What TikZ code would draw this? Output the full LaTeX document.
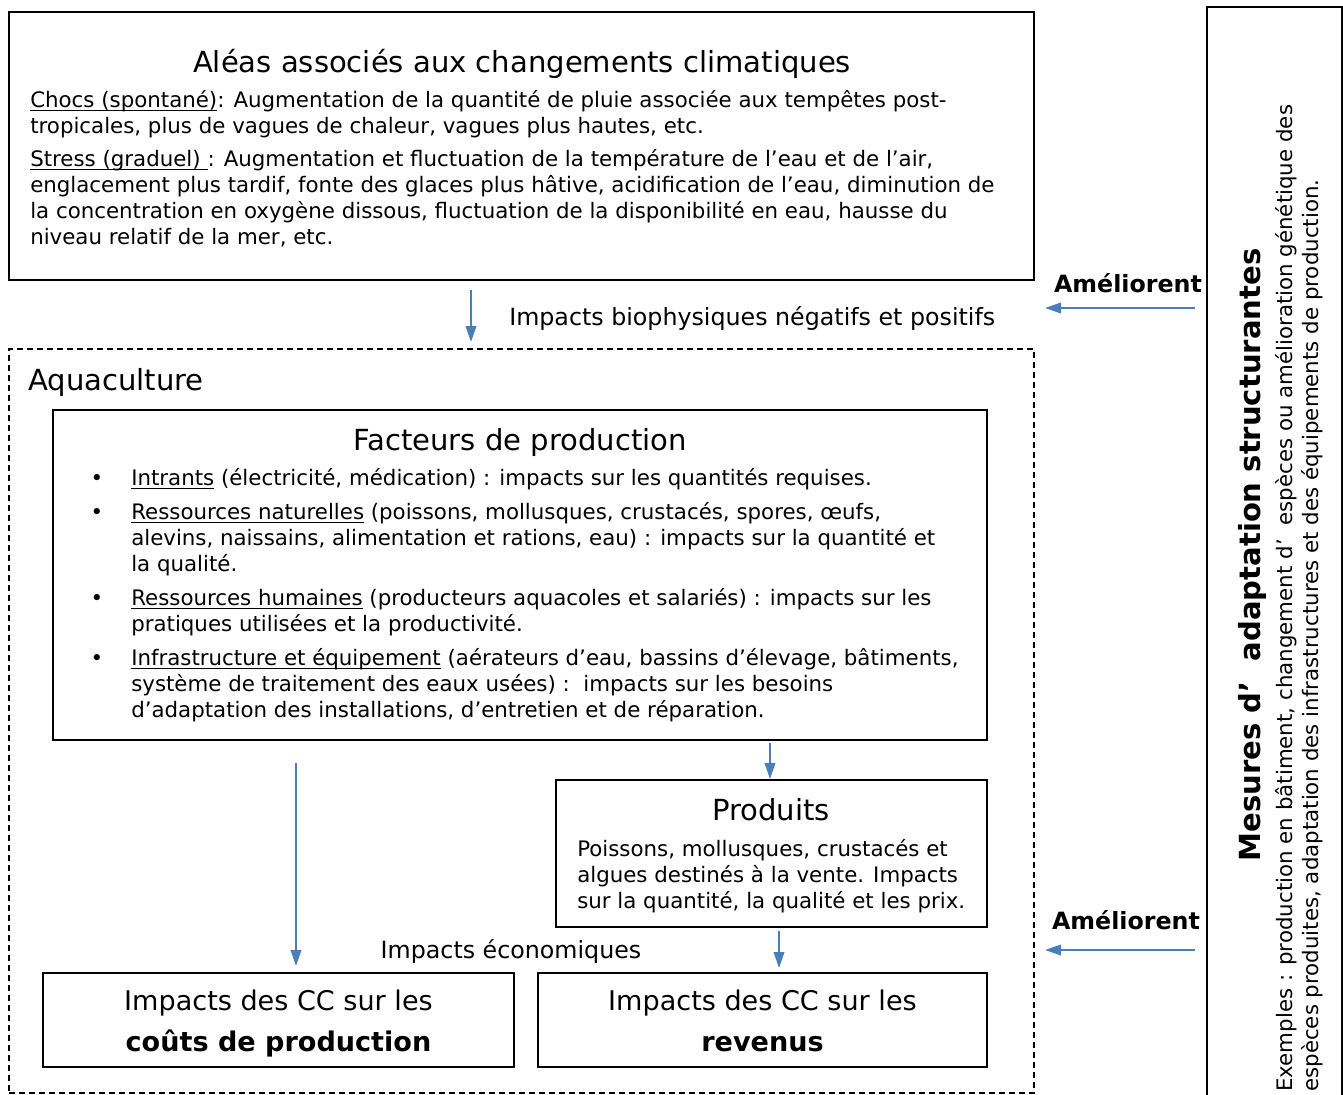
\documentclass[tikz,border=0pt]{standalone}
\usepackage{fontspec}
\setmainfont{DejaVu Sans}
\usetikzlibrary{arrows.meta,fit}
\definecolor{arrblue}{HTML}{4A7EBB}
\newcommand\bodyfont{\fontsize{16}{19.5}\selectfont}
\newcommand\lblfont{\fontsize{17.8}{21}\selectfont}
\newcommand\titlefont{\fontsize{21.8}{26}\selectfont}
\newcommand\ccfont{\fontsize{20.3}{24}\selectfont}
\newcommand\myul[1]{\setbox0\hbox{#1}\rlap{\rule[-2.4pt]{\wd0}{0.75pt}}\box0\relax}
\begin{document}
\begin{tikzpicture}[x=0.75pt,y=-0.75pt,
  box/.style={draw, line width=1.3pt, inner sep=0pt},
  dbox/.style={draw, line width=0.9pt, dash pattern=on 4.5pt off 3pt, inner sep=0pt},
  para/.style={anchor=north west, inner sep=0pt, align=left, font=\bodyfont},
  one/.style={inner sep=0pt, text height=11.5pt, text depth=0pt, font=\bodyfont},
  lbl/.style={inner sep=0pt, text height=12.8pt, text depth=0pt, font=\lblfont},
  ttl/.style={inner sep=0pt, text height=15.7pt, text depth=0pt, font=\titlefont},
  cc/.style={inner sep=0pt, text height=14.6pt, text depth=0pt, font=\ccfont},
  arr/.style={draw=arrblue, line width=1.1pt, -{Triangle[length=12pt,width=8pt]}}]
\useasboundingbox (0,0) rectangle (1343,1095);

% top box
\node[box, fit={(9,12)(1034,280)}] (alea) {};
\node[ttl] (aleaT) at (522,62) {Aléas associés aux changements climatiques};
\node[para] (chocs) at (30,89.5) {\strut\myul{Chocs (spontané)}: Augmentation de la quantité de pluie associée aux tempêtes post-\\tropicales, plus de vagues de chaleur, vagues plus hautes, etc.};
\node[para] (stress) at (30,148.5) {\strut\myul{Stress (graduel)\ }: Augmentation et fluctuation de la température de l’eau et de l’air,\\englacement plus tardif, fonte des glaces plus hâtive, acidification de l’eau, diminution de\\la concentration en oxygène dissous, fluctuation de la disponibilité en eau, hausse du\\niveau relatif de la mer, etc.};

% arrow 1
\coordinate (a1s) at (471,290);
\coordinate (a1e) at (471,342);
\draw[arr] (a1s) -- (a1e);
\node[lbl, anchor=west] (bio) at (509,317) {Impacts biophysiques négatifs et positifs};

% aquaculture dashed box
\node[dbox, fit={(9,349)(1034,1093)}] (aqua) {};
\node[ttl, anchor=west] (aquaT) at (28,380) {Aquaculture};

% facteurs box
\node[box, fit={(53,410)(987,740)}] (fact) {};
\node[ttl] (factT) at (520,440) {Facteurs de production};
\foreach \y/\n in {478/b1,512/b2,598/b3,658/b4}
  \node[one] (\n) at (97,\y) {•};
\node[para] (i1) at (131,467.5) {\strut\myul{Intrants} (électricité, médication) : impacts sur les quantités requises.};
\node[para] (i2) at (131,501.5) {\strut\myul{Ressources naturelles} (poissons, mollusques, crustacés, spores, œufs,\\alevins, naissains, alimentation et rations, eau) : impacts sur la quantité et\\la qualité.};
\node[para] (i3) at (131,587.5) {\strut\myul{Ressources humaines} (producteurs aquacoles et salariés) : impacts sur les\\pratiques utilisées et la productivité.};
\node[para] (i4) at (131,647.5) {\strut\myul{Infrastructure et équipement} (aérateurs d’eau, bassins d’élevage, bâtiments,\\système de traitement des eaux usées) :\ \ impacts sur les besoins\\d’adaptation des installations, d’entretien et de réparation.};

% produits box
\node[box, fit={(556,780)(987,927)}] (prod) {};
\node[ttl] (prodT) at (771,810) {Produits};
\node[para] (prodX) at (577,838.5) {\strut Poissons, mollusques, crustacés et\\algues destinés à la vente. Impacts\\sur la quantité, la qualité et les prix.};

% arrows inside
\coordinate (a2s) at (296,763);
\coordinate (a2e) at (296,966);
\draw[arr] (a2s) -- (a2e);
\coordinate (a3s) at (770,743);
\coordinate (a3e) at (770,779);
\draw[arr] (a3s) -- (a3e);
\coordinate (a4s) at (779,931);
\coordinate (a4e) at (779,968);
\draw[arr] (a4s) -- (a4e);
\node[lbl] (eco) at (511,950) {Impacts économiques};

% bottom boxes
\node[box, fit={(43,973)(514,1067)}] (couts) {};
\node[cc] (coutsA) at (278.5,1001) {Impacts des CC sur les};
\node[cc] (coutsB) at (278.5,1042) {\bfseries coûts de production};
\node[box, fit={(538,973)(987,1067)}] (rev) {};
\node[cc] (revA) at (762.5,1001) {Impacts des CC sur les};
\node[cc] (revB) at (762.5,1042) {\bfseries revenus};

% right box
\draw[line width=1.3pt] (1207,1100) -- (1207,7) -- (1342,7) -- (1342,1100);
\node[inner sep=0pt, text height=15.7pt, text depth=0pt, font=\fontsize{21.8}{26}\selectfont\bfseries, rotate=90] (mes) at (1250,555) {Mesures d’\ \ adaptation structurantes};
\node[para, rotate=90] (ex) at (1274.5,1092) {\strut Exemples : production en bâtiment, changement d’\ \ espèces ou amélioration génétique des\\espèces produites, adaptation des infrastructures et des équipements de production.};

% ameliorent
\node[lbl, font=\lblfont\bfseries] (am1) at (1128,284) {Améliorent};
\coordinate (m1s) at (1195,308);
\coordinate (m1e) at (1045,308);
\draw[arr] (m1s) -- (m1e);
\node[lbl, font=\lblfont\bfseries] (am2) at (1126,921) {Améliorent};
\coordinate (m2s) at (1195,950);
\coordinate (m2e) at (1045,950);
\draw[arr] (m2s) -- (m2e);
\end{tikzpicture}
\end{document}
